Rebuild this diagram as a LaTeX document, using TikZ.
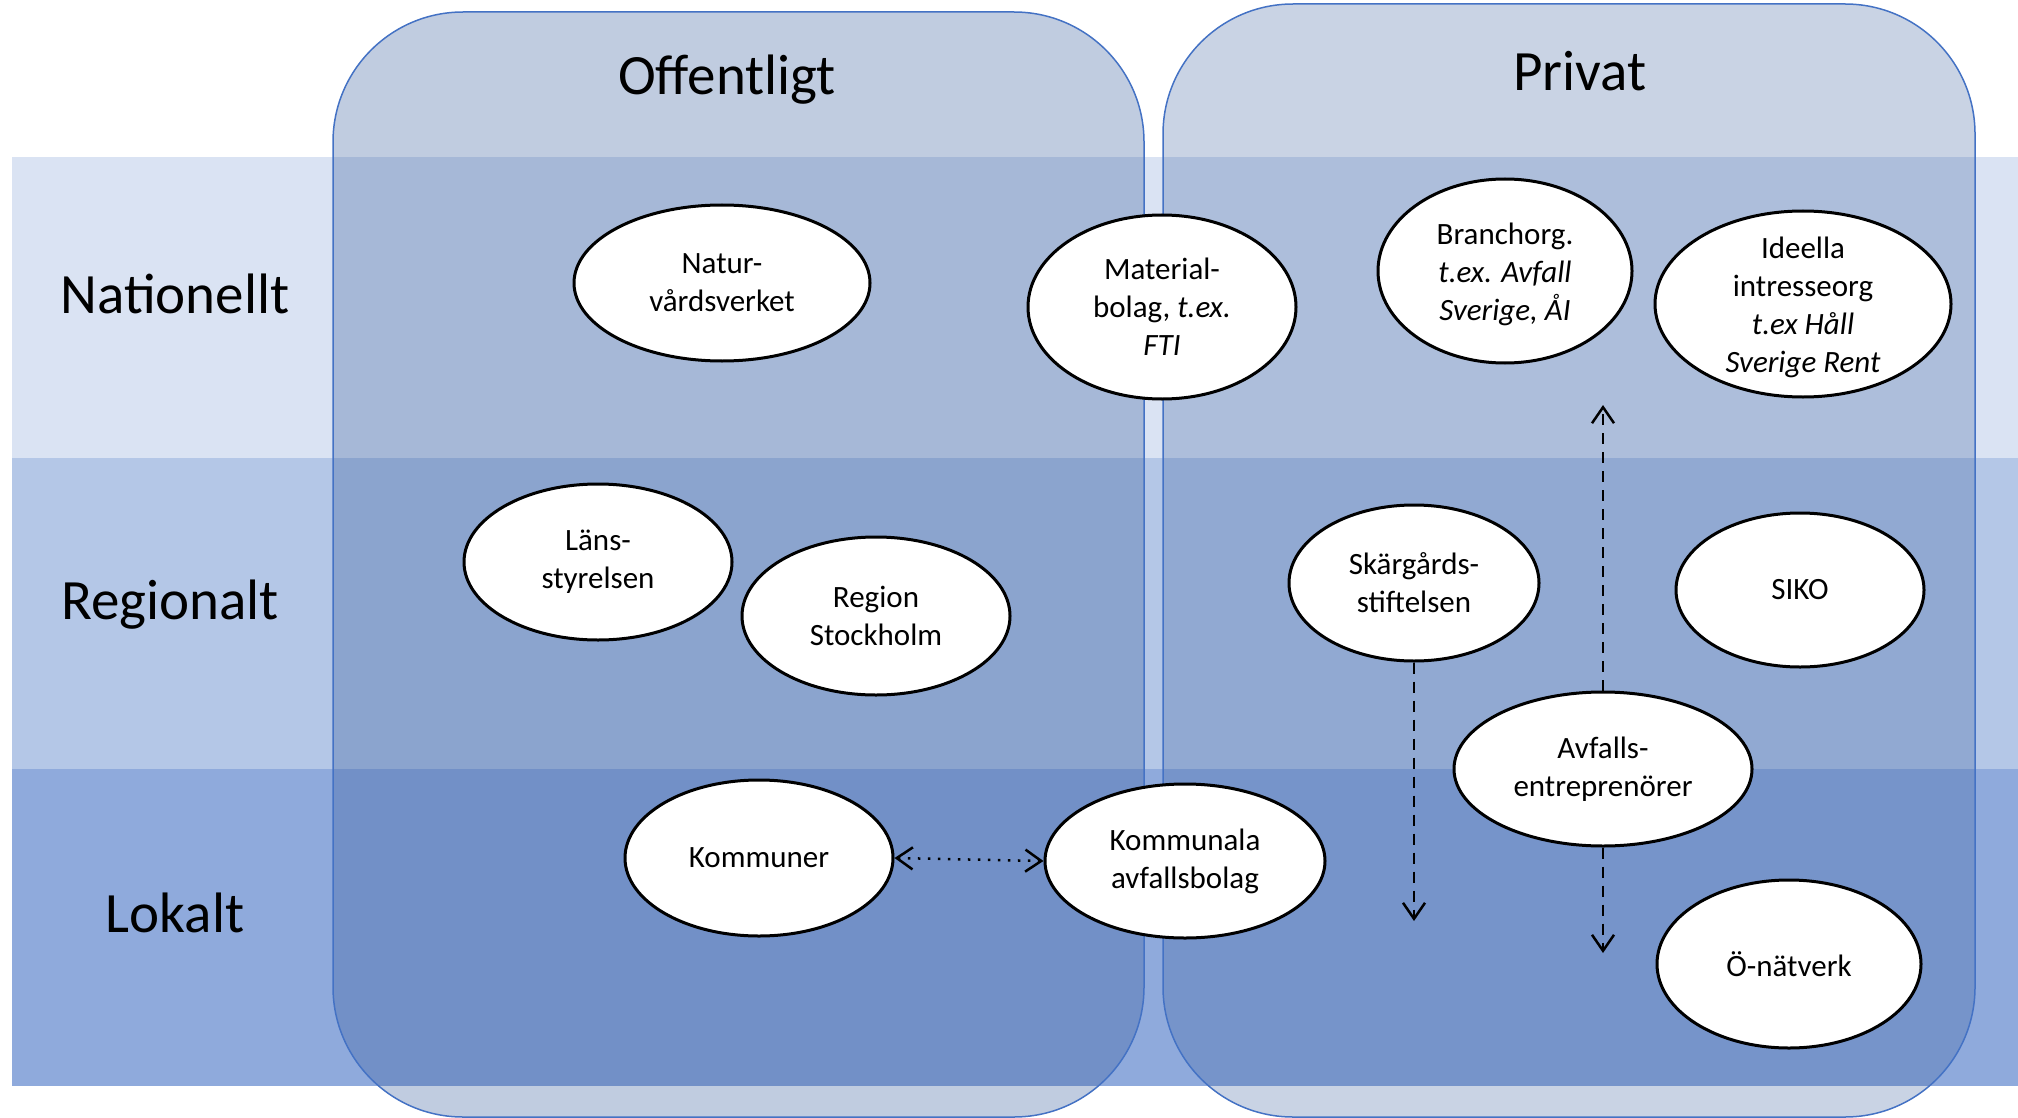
\documentclass[tikz,border=0pt]{standalone}
\usepackage{fontspec}
\setmainfont{Carlito}
\usetikzlibrary{shapes.geometric,arrows.meta}
\definecolor{bandN}{HTML}{DAE3F3}
\definecolor{bandR}{HTML}{B4C7E7}
\definecolor{bandL}{HTML}{8FAADC}
\definecolor{boxfill}{HTML}{2F5597}
\definecolor{boxline}{HTML}{4472C4}
\begin{document}
\begin{tikzpicture}[x=1pt,y=-1pt,
  panel/.style={draw=boxline, line width=1.5pt, fill=boxfill, rounded corners=130pt},
  blob/.style={ellipse, draw=black, line width=3pt, fill=white, inner sep=0pt},
  txt/.style={align=center, font=\fontsize{31}{38}\selectfont, inner sep=0pt},
  head/.style={font=\fontsize{57}{68}\selectfont, anchor=base, inner sep=0pt},
  tip/.style={Straight Barb[length=16pt,width=22pt,line width=2.5pt]},
  dashlink/.style={line width=2.5pt, dash pattern=on 11pt off 8pt, -{Straight Barb[length=16pt,width=22pt]}},
  dotlink/.style={line width=2.5pt, dash pattern=on 2.5pt off 7.5pt, {Straight Barb[length=16pt,width=22pt]}-{Straight Barb[length=16pt,width=22pt]}}
]
\useasboundingbox (0,0) rectangle (2018,1118);
% bands
\fill[bandN] (12,157) rectangle (2018,458);
\fill[bandR] (12,458) rectangle (2018,769);
\fill[bandL] (12,769) rectangle (2018,1086);
% panels
\path[panel, fill opacity=0.3] (333,1117) rectangle (1144,12);
\path[panel, fill opacity=0.26] (1163,1117) rectangle (1975,4);
% headings
\node[head] (hoff) at (727,95) {Offentligt};
\node[head] (hpriv) at (1580,91) {Privat};
\node[head] (hnat) at (175,313) {Nationellt};
\node[head] (hreg) at (170,619) {Regionalt};
\node[head] (hlok) at (175,932) {Lokalt};
% ellipses
\node[blob, minimum width=296pt, minimum height=156pt] (nat) at (722,283) {};
\node[txt] (nat-t) at (nat) {Natur-\\vårdsverket};
\node[blob, minimum width=268pt, minimum height=184pt] (mat) at (1162,307) {};
\node[txt] (mat-t) at (mat) {Material-\\bolag, \textit{t.ex.}\\\textit{FTI}};
\node[blob, minimum width=254pt, minimum height=184pt] (bra) at (1505,271) {};
\node[txt] (bra-t) at (1505,274) {Branchorg.\\\textit{t.ex. Avfall}\\\textit{Sverige, ÅI}};
\node[blob, minimum width=296pt, minimum height=186pt] (ide) at (1803,304) {};
\node[txt] (ide-t) at (1803,307) {Ideella\\intresseorg\\\textit{t.ex Håll}\\\textit{Sverige Rent}};
\node[blob, minimum width=268pt, minimum height=156pt] (lan) at (598,562) {};
\node[txt] (lan-t) at (lan) {Läns-\\styrelsen};
\node[blob, minimum width=268pt, minimum height=158pt] (reg) at (876,616) {};
\node[txt] (reg-t) at (reg) {Region\\Stockholm};
\node[blob, minimum width=268pt, minimum height=156pt] (kom) at (759,858) {};
\node[txt] (kom-t) at (kom) {Kommuner};
\node[blob, minimum width=280pt, minimum height=154pt] (kab) at (1185,861) {};
\node[txt] (kab-t) at (kab) {Kommunala\\avfallsbolag};
\node[blob, minimum width=250pt, minimum height=156pt] (ska) at (1414,583) {};
\node[txt] (ska-t) at (ska) {Skärgårds-\\stiftelsen};
\node[blob, minimum width=248pt, minimum height=154pt] (siko) at (1800,590) {};
\node[txt] (siko-t) at (siko) {SIKO};
\node[blob, minimum width=298pt, minimum height=154pt] (avf) at (1603,769) {};
\node[txt] (avf-t) at (avf) {Avfalls-\\entreprenörer};
\node[blob, minimum width=264pt, minimum height=168pt] (ona) at (1789,964) {};
\node[txt] (ona-t) at (ona) {Ö-nätverk};
% free ends
\coordinate (skaend) at (1414,921);
\coordinate (avfup) at (1603,405);
\coordinate (avfdown) at (1603,953);
% connectors
\draw[dotlink] (kom.east) -- (kab.west);
\draw[dashlink] (ska.south) -- (skaend);
\draw[dashlink] (avf.north) -- (avfup);
\draw[dashlink] (avf.south) -- (avfdown);
\end{tikzpicture}
\end{document}
